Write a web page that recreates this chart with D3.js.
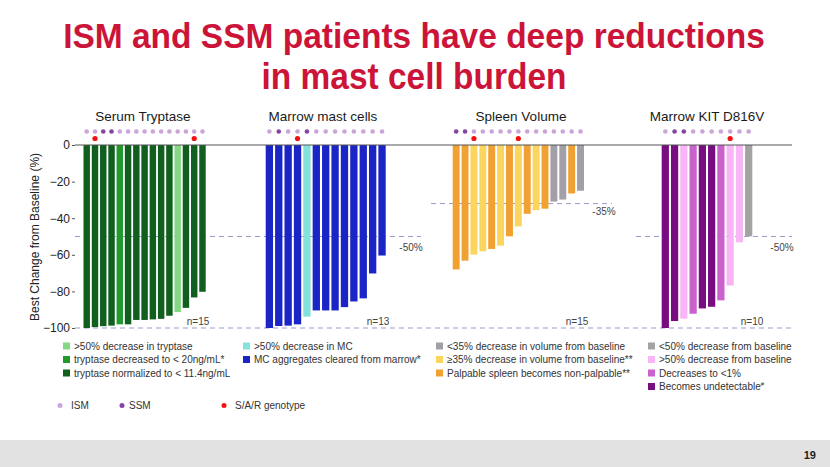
<!DOCTYPE html>
<html><head><meta charset="utf-8">
<script src="https://cdn.jsdelivr.net/npm/d3@7"></script>
<style>body{margin:0;background:#fff}svg{display:block;font-family:"Liberation Sans",Arial,sans-serif}</style>
</head><body><svg id="c" width="830" height="467"></svg>
<script>
// ---------- DATA ----------
const titleLines = ["ISM and SSM patients have deep reductions", "in mast cell burden"];
const panelTitles = ["Serum Tryptase", "Marrow mast cells", "Spleen Volume", "Marrow KIT D816V"];
const yTicks = [0, -20, -40, -60, -80, -100];
const yLabel = "Best Change from Baseline (%)";

const tryptaseValues = [-100, -99.5, -99, -98.7, -98, -98, -95.6, -95.6, -95.3, -95, -93.3, -91.3, -89, -83.3, -80.2];
const tryptaseCats   = ["tn","tn","tn","tn","t20","tn","tn","tn","tn","tn","tn","t50","tn","tn","tn"];
const tryptaseType   = ["ISM","ISM","SSM","SSM","ISM","ISM","ISM","ISM","ISM","ISM","ISM","ISM","ISM","ISM","ISM"];
const tryptaseSAR    = [0,1,0,0,0,0,0,0,0,0,0,0,0,1,0];

const marrowValues = [-100, -98.9, -98.7, -98, -93.8, -90.4, -90.4, -90.4, -88.6, -85.5, -83.8, -70.2, -60.4];
const marrowCats   = ["mc","mc","mc","mc","m50","mc","mc","mc","mc","mc","mc","mc","mc"];
const marrowType   = ["ISM","SSM","ISM","ISM","SSM","ISM","ISM","ISM","ISM","ISM","ISM","ISM","ISM"];
const marrowSAR    = [0,0,0,1,0,0,0,0,0,0,0,0,0];

const spleenValues = [-68, -63.2, -59.9, -58.1, -56.8, -55, -49.9, -44.5, -37.6, -35.6, -34.8, -30.9, -29.8, -26.5, -25];
const spleenCats   = ["sp","sp","s35","s35","sp","s35","sp","s35","sp","s35","sp","sl","sl","sp","sl"];
const spleenType   = ["SSM","SSM","ISM","ISM","ISM","ISM","ISM","ISM","ISM","ISM","ISM","ISM","ISM","ISM","ISM"];
const spleenSAR    = [0,0,1,0,0,0,0,1,0,0,0,0,0,0,0];

const kitValues = [-100, -96.2, -94.9, -92.2, -89.3, -88.4, -84.9, -76.8, -53.2, -49.9];
const kitCats   = ["ku","ku","k50","k1","ku","ku","k1","k50","k50","kl"];
const kitType   = ["ISM","SSM","SSM","ISM","ISM","ISM","ISM","ISM","ISM","ISM"];
const kitSAR    = [0,0,0,0,0,0,0,1,0,0];

const nLabels = ["n=15", "n=13", "n=15", "n=10"];
const refValues = [-50, -32, -50];
const refLabels = ["-50%", "-35%", "-50%"];

// [colour key, label, superscript]
const legendCols = [
  [["t50", ">50% decrease in tryptase", ""], ["t20", "tryptase decreased to < 20ng/mL*", ""], ["tn", "tryptase normalized to < 11.4ng/mL", ""]],
  [["m50", ">50% decrease in MC", ""], ["mc", "MC aggregates cleared from marrow*", ""]],
  [["sl", "<35% decrease in volume from baseline", ""], ["s35", "≥35% decrease in volume from baseline**", ""], ["sp", "Palpable spleen becomes non-palpable**", ""]],
  [["kl", "<50% decrease from baseline", ""], ["k50", ">50% decrease from baseline", ""], ["k1", "Decreases to <1%", ""], ["ku", "Becomes undetectable", "#"]]
];
const dotLegend = [["ISM", "ISM"], ["SSM", "SSM"], ["SAR", "S/A/R genotype"]];
const pageNumber = "19";

// ---------- STYLE ----------
const colors = {
  tn: "#115f1e", t20: "#21992c", t50: "#84d884",
  mc: "#1b25c6", m50: "#84e2dc",
  sl: "#a29fa6", s35: "#fbd55c", sp: "#f1a131",
  kl: "#a3a3a3", k50: "#f8b6f6", k1: "#c962cc", ku: "#780d82",
  ISM: "#cba4da", SSM: "#8644a2", SAR: "#f21111"
};

const svg = d3.select("#c");

// Title (bold, horizontally condensed to the reference width)
const tl = [{t: titleLines[0], y: 48, w: 702, x: 414}, {t: titleLines[1], y: 88.5, w: 305, x: 414}];
tl.forEach(d => {
  const g = svg.append("g");
  const t = g.append("text").attr("x", 0).attr("y", 0).attr("text-anchor", "middle")
    .style("font-family", "'Liberation Sans Narrow','Arial Narrow','Liberation Sans',Arial,sans-serif")
    .style("font-weight", "bold").style("font-size", "36px").style("fill", "#cc1439")
    .text(d.t);
  const natural = t.node().getComputedTextLength();
  const s = d.w / natural;
  g.attr("transform", `translate(${d.x},${d.y}) scale(${s},1)`);
});

// Scales
const y = d3.scaleLinear().domain([-100, 0]).range([328, 145]);
const panels = [
  {vals: tryptaseValues, cats: tryptaseCats, type: tryptaseType, sar: tryptaseSAR, range: [83.5, 205.7], titleX: 143},
  {vals: marrowValues, cats: marrowCats, type: marrowType, sar: marrowSAR, range: [265.7, 385.7], titleX: 323},
  {vals: spleenValues, cats: spleenCats, type: spleenType, sar: spleenSAR, range: [452.7, 584], titleX: 521},
  {vals: kitValues, cats: kitCats, type: kitType, sar: kitSAR, range: [661.7, 752.3], titleX: 707}
];

// Y axis
const yAxis = d3.axisLeft(y).tickValues(yTicks).tickSize(3).tickPadding(2).tickFormat(d3.format("d"));
const ga = svg.append("g").attr("transform", "translate(75,0)").call(yAxis);
ga.select(".domain").remove();
ga.selectAll(".tick line").attr("stroke", "#555");
ga.selectAll(".tick text").style("font-size", "12px").style("fill", "#222").style("font-family", "'Liberation Sans',Arial,sans-serif");
svg.append("text").attr("transform", "translate(39,237) rotate(-90)").attr("text-anchor", "middle")
  .style("font-size", "12px").style("fill", "#222").text(yLabel);

// Dashed ref lines
const dashed = (x1, x2, v) => svg.append("line").attr("x1", x1).attr("x2", x2).attr("y1", y(v)).attr("y2", y(v))
  .attr("stroke", "#9b9ccc").attr("stroke-width", 1).attr("stroke-dasharray", "5,4");
dashed(75, 792, -100);
dashed(75, 421, refValues[0]);
dashed(431, 612, refValues[1]);
dashed(636, 792, refValues[2]);

panels.forEach((p, i) => {
  const x = d3.scaleBand().domain(d3.range(p.vals.length)).range(p.range).paddingInner(0.22).paddingOuter(0);
  const g = svg.append("g");
  g.selectAll("rect").data(p.vals).join("rect")
    .attr("x", (d, j) => x(j)).attr("width", x.bandwidth())
    .attr("y", y(0)).attr("height", d => y(d) - y(0))
    .attr("fill", (d, j) => colors[p.cats[j]]);
  g.selectAll("circle.t").data(p.type).join("circle").attr("class", "t")
    .attr("cx", (d, j) => x(j) + x.bandwidth() / 2).attr("cy", 131.5).attr("r", 2.3)
    .attr("fill", d => colors[d]);
  g.selectAll("circle.s").data(p.sar.map((s, j) => [s, j]).filter(d => d[0])).join("circle").attr("class", "s")
    .attr("cx", d => x(d[1]) + x.bandwidth() / 2).attr("cy", 138.5).attr("r", 2.6)
    .attr("fill", colors.SAR);
  g.append("text").attr("x", p.titleX).attr("y", 120.5).attr("text-anchor", "middle")
    .style("font-size", "13.5px").style("fill", "#1a1a1a").text(panelTitles[i]);
});

// Zero line
svg.append("line").attr("x1", 75).attr("x2", 792).attr("y1", y(0)).attr("y2", y(0)).attr("stroke", "#555").attr("stroke-width", 1);

// n labels
const nX = [198, 378, 577, 752];
svg.selectAll("text.n").data(nLabels).join("text").attr("class", "n")
  .attr("x", (d, i) => nX[i]).attr("y", 324.5).attr("text-anchor", "middle")
  .style("font-size", "10px").style("fill", "#444").text(d => d);

// ref labels
const refPos = [[411, 251], [604, 214.5], [782, 251]];
svg.selectAll("text.r").data(refLabels).join("text").attr("class", "r")
  .attr("x", (d, i) => refPos[i][0]).attr("y", (d, i) => refPos[i][1]).attr("text-anchor", "middle")
  .style("font-size", "10px").style("fill", "#444").text(d => d);

// Legend
const colX = [63, 243, 436, 648];
const rowY = [346, 359.5, 373, 386.5];
legendCols.forEach((col, ci) => {
  const g = svg.append("g");
  g.selectAll("rect").data(col).join("rect")
    .attr("x", colX[ci]).attr("y", (d, r) => rowY[r] - 3.5).attr("width", 7).attr("height", 7)
    .attr("fill", d => colors[d[0]]);
  const t = g.selectAll("text").data(col).join("text")
    .attr("x", colX[ci] + 11).attr("y", (d, r) => rowY[r] + 3.6)
    .style("font-size", "10px").style("fill", "#333");
  t.append("tspan").text(d => d[1]);
  t.filter(d => d[2]).append("tspan").attr("dy", -4).style("font-size", "6px").text(d => d[2]);
});
const dotX = [60, 122, 224];
const dotTextX = [71, 129, 235];
dotLegend.forEach((d, i) => {
  svg.append("circle").attr("cx", dotX[i]).attr("cy", 405.5).attr("r", 2.5).attr("fill", colors[d[0]]);
  svg.append("text").attr("x", dotTextX[i]).attr("y", 409).style("font-size", "10px").style("fill", "#333").text(d[1]);
});

// Footer
svg.append("rect").attr("x", 0).attr("y", 440).attr("width", 830).attr("height", 27).attr("fill", "#e2e2e2");
svg.append("text").attr("x", 816).attr("y", 459).attr("text-anchor", "end")
  .style("font-size", "11px").style("font-weight", "bold").style("fill", "#222").text(pageNumber);
</script></body></html>
